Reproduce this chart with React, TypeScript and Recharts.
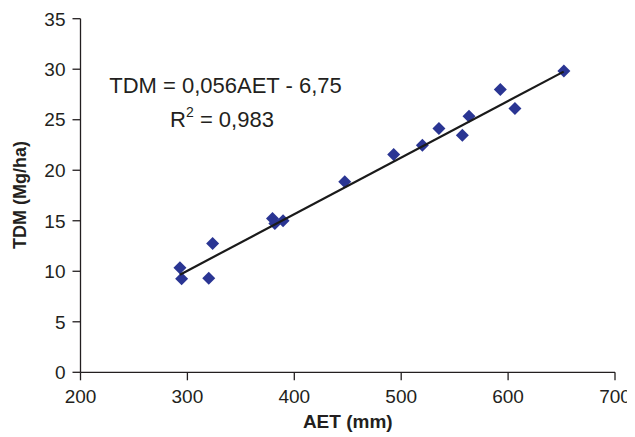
import { ScatterChart, Scatter, XAxis, YAxis } from 'recharts';

// AET (mm) vs total dry matter (Mg/ha)
const aet = [293, 294.6, 320, 323.6, 379.6, 381.8, 389.5, 447.2, 493, 519.8, 535.3, 557.2, 563.4, 592.7, 606.4, 652.2];
const tdm = [10.35, 9.26, 9.3, 12.76, 15.23, 14.74, 15.0, 18.87, 21.56, 22.48, 24.13, 23.47, 25.35, 27.99, 26.11, 29.83];

// fitted line ends
const trendX = [293, 652];
const trendY = [9.66, 29.76];

const xTicks = [200, 300, 400, 500, 600, 700];
const yTicks = [0, 5, 10, 15, 20, 25, 30, 35];

const points = aet.map((x, i) => ({ x, y: tdm[i] }));
const trend = trendX.map((x, i) => ({ x, y: trendY[i] }));

const INK = '#231f20';
const MARK = '#2a3593';
const FONT = 'Liberation Sans, Arial, sans-serif';

function Diamond(props: any) {
  const { cx, cy } = props;
  const r = 6.5;
  return (
    <path
      d={`M${cx},${cy - r}L${cx + r},${cy}L${cx},${cy + r}L${cx - r},${cy}Z`}
      fill={MARK}
    />
  );
}

export default function App() {
  return (
    <div style={{ width: 627, height: 425, fontFamily: FONT }}>
      <ScatterChart
        width={627}
        height={425}
        margin={{ top: 10.7, right: 20, bottom: 0, left: 0 }}
      >
        <XAxis
          type="number"
          dataKey="x"
          domain={[200, 700]}
          ticks={xTicks}
          height={60.7}
          tickSize={8}
          tickMargin={9}
          axisLine={{ stroke: INK, strokeWidth: 1.3 }}
          tickLine={{ stroke: INK, strokeWidth: 1.3 }}
          tick={{ fill: INK, fontSize: 19, fontFamily: FONT }}
          label={{
            value: 'AET (mm)',
            position: 'insideBottom',
            offset: 5,
            fill: INK,
            fontSize: 19,
            fontWeight: 'bold',
            fontFamily: FONT,
          }}
        />
        <YAxis
          type="number"
          dataKey="y"
          domain={[0, 35]}
          ticks={yTicks}
          width={72.5}
          tickSize={8}
          tickMargin={7}
          axisLine={{ stroke: INK, strokeWidth: 1.3 }}
          tickLine={{ stroke: INK, strokeWidth: 1.3 }}
          tick={{ fill: INK, fontSize: 19, fontFamily: FONT }}
        />
        <Scatter data={points} shape={<Diamond />} isAnimationActive={false} />
        <Scatter
          data={trend}
          line={{ stroke: '#1a1a1a', strokeWidth: 2.2 }}
          shape={() => null}
          isAnimationActive={false}
        />
        <text
          x={12}
          y={187}
          transform="rotate(-90, 12, 187)"
          textAnchor="middle"
          dominantBaseline="central"
          fontSize={18}
          fontWeight="bold"
          fill={INK}
          fontFamily={FONT}
        >
          TDM (Mg/ha)
        </text>
        <text x={217.5} y={84.7} textAnchor="middle" fontSize={22} fill={INK} fontFamily={FONT}>
          TDM = 0,056AET - 6,75
        </text>
        <text x={214} y={119} textAnchor="middle" fontSize={22} fill={INK} fontFamily={FONT}>
          R<tspan fontSize={14} dy={-10}>2</tspan>
          <tspan dy={10}> = 0,983</tspan>
        </text>
      </ScatterChart>
    </div>
  );
}
